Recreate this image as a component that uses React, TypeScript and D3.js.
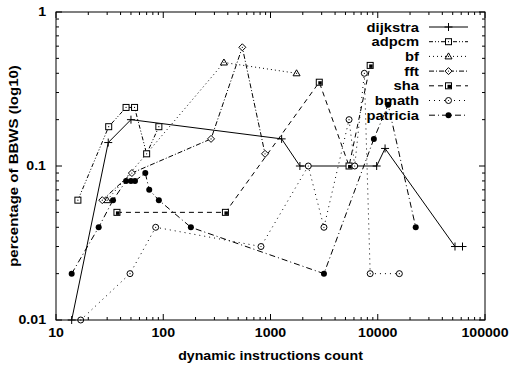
import * as d3 from "d3";

// x: dynamic instructions count, y: percentage of BBWS
const dijkstraX = [14, 30.7, 50, 1270, 1880, 9770, 11700, 52500, 61700];
const dijkstraY = [0.01, 0.142, 0.2, 0.15, 0.1, 0.1, 0.13, 0.03, 0.03];

const adpcmX = [16, 31, 45, 54, 70, 91];
const adpcmY = [0.06, 0.18, 0.24, 0.24, 0.12, 0.18];

const bfX = [30, 368, 1750];
const bfY = [0.06, 0.47, 0.4];

const fftX = [27, 51, 279, 546, 889];
const fftY = [0.06, 0.09, 0.15, 0.59, 0.12];

const shaX = [37, 380, 2850, 5400, 8500];
const shaY = [0.05, 0.05, 0.35, 0.1, 0.45];

const bmathX = [17, 49, 85, 815, 2250, 3150, 5400, 6100, 7500, 8500, 15900];
const bmathY = [0.01, 0.02, 0.04, 0.03, 0.1, 0.04, 0.2, 0.1, 0.4, 0.02, 0.02];

const patriciaX = [14, 25, 34, 45, 50, 54.5, 68, 74, 91, 181, 3150, 9200, 12500, 22600];
const patriciaY = [0.02, 0.04, 0.06, 0.08, 0.08, 0.08, 0.09, 0.07, 0.06, 0.04, 0.02, 0.15, 0.25, 0.04];

const xTicks = [10, 100, 1000, 10000, 100000];
const xTickLabels = ["10", "100", "1000", "10000", "100000"];
const yTicks = [0.01, 0.1, 1];
const yTickLabels = ["0.01", "0.1", "1"];

const series = [
  { name: "dijkstra", xs: dijkstraX, ys: dijkstraY, dash: "none", mark: "plus" },
  { name: "adpcm", xs: adpcmX, ys: adpcmY, dash: "4,2,1,2,1,2", mark: "square" },
  { name: "bf", xs: bfX, ys: bfY, dash: "1,3", mark: "triangle" },
  { name: "fft", xs: fftX, ys: fftY, dash: "5,2,1,2", mark: "diamond" },
  { name: "sha", xs: shaX, ys: shaY, dash: "5,4", mark: "fsquare" },
  { name: "bmath", xs: bmathX, ys: bmathY, dash: "1,4", mark: "circle" },
  { name: "patricia", xs: patriciaX, ys: patriciaY, dash: "6,3,1,3", mark: "dot" },
];

const W = 509;
const H = 366;
const left = 56, right = 485, top = 12, bottom = 320;
const font = "'Liberation Sans', Arial, sans-serif";
const stretch = 1.18; // the original's Helvetica is drawn a bit wide

function T({ x, y, anchor, size, rot, sx = stretch, children }: any) {
  const tr = `translate(${x},${y})${rot ? ` rotate(${rot})` : ""} scale(${sx},1)`;
  return <text transform={tr} textAnchor={anchor} fontSize={size}>{children}</text>;
}

function Marker({ type, x, y }: { type: string; x: number; y: number }) {
  const s = 3;
  const dot = <circle cx={x} cy={y} r={0.6} fill="black" />;
  switch (type) {
    case "plus":
      return <path d={`M${x - 4},${y}H${x + 4}M${x},${y - 4}V${y + 4}`} stroke="black" strokeWidth={1} />;
    case "square":
      return <g><rect x={x - s} y={y - s} width={2 * s} height={2 * s} fill="white" stroke="black" />{dot}</g>;
    case "fsquare":
      return <g><rect x={x - s} y={y - s} width={2 * s} height={2 * s} fill="white" stroke="black" /><rect x={x - 1} y={y - 1} width={3.5} height={3.5} fill="black" /></g>;
    case "triangle":
      return <g><path d={`M${x},${y - 3.5}L${x + 3.5},${y + 2.5}L${x - 3.5},${y + 2.5}Z`} fill="white" stroke="black" />{dot}</g>;
    case "diamond":
      return <g><path d={`M${x},${y - 3.5}L${x + 3.5},${y}L${x},${y + 3.5}L${x - 3.5},${y}Z`} fill="white" stroke="black" />{dot}</g>;
    case "circle":
      return <g><circle cx={x} cy={y} r={3} fill="white" stroke="black" />{dot}</g>;
    default:
      return <circle cx={x} cy={y} r={3} fill="black" />;
  }
}

export default function App() {
  const x = d3.scaleLog().domain([10, 100000]).range([left, right]);
  const y = d3.scaleLog().domain([0.01, 1]).range([bottom, top]);

  const line = d3.line<[number, number]>().x((d) => x(d[0])).y((d) => y(d[1]));

  const xMinor: number[] = [];
  for (let e = 1; e < 5; e++) for (let m = 2; m < 10; m++) xMinor.push(m * Math.pow(10, e));
  const yMinor: number[] = [];
  for (let e = -2; e < 0; e++) for (let m = 2; m < 10; m++) yMinor.push(m * Math.pow(10, e));

  const legendY = (i: number) => 27 + i * 14.7;

  return (
    <svg width={W} height={H} style={{ position: "absolute", left: 0, top: 0, background: "white" }} fontFamily={font} fontWeight="bold">
      {/* ticks, mirrored on all sides */}
      <g stroke="black" strokeWidth={1}>
        {xTicks.map((t) => (
          <path key={"xt" + t} d={`M${x(t)},${bottom}v-6M${x(t)},${top}v6`} />
        ))}
        {xMinor.map((t) => (
          <path key={"xm" + t} d={`M${x(t)},${bottom}v-3M${x(t)},${top}v3`} />
        ))}
        {yTicks.map((t) => (
          <path key={"yt" + t} d={`M${left},${y(t)}h6M${right},${y(t)}h-6`} />
        ))}
        {yMinor.map((t) => (
          <path key={"ym" + t} d={`M${left},${y(t)}h3M${right},${y(t)}h-3`} />
        ))}
      </g>

      {xTicks.map((t, i) => (
        <T key={"xl" + t} x={x(t)} y={337} anchor="middle" size={12}>{xTickLabels[i]}</T>
      ))}
      {yTicks.map((t, i) => (
        <T key={"yl" + t} x={46} y={y(t) + 4} anchor="end" size={12}>{yTickLabels[i]}</T>
      ))}

      <T x={(left + right) / 2} y={360} anchor="middle" size={12}>dynamic instructions count</T>
      <T x={18} y={(top + bottom) / 2} rot={-90} anchor="middle" size={12} sx={1.25}>percentage of BBWS (log10)</T>

      <defs>
        <clipPath id="plot"><rect x={left} y={top} width={right - left} height={bottom - top} /></clipPath>
      </defs>

      <g clipPath="url(#plot)">
        {series.map((s) => (
          <path key={s.name} d={line(s.xs.map((v, i) => [v, s.ys[i]]) as [number, number][]) || ""} fill="none" stroke="black" strokeWidth={1} strokeDasharray={s.dash} />
        ))}
      </g>
      {series.map((s) => (
        <g key={s.name + "m"}>
          {s.xs.map((v, i) => <Marker key={i} type={s.mark} x={x(v)} y={y(s.ys[i])} />)}
        </g>
      ))}

      {/* legend */}
      {series.map((s, i) => (
        <g key={s.name + "lg"}>
          <T x={419} y={legendY(i) + 4.5} anchor="end" size={12.5}>{s.name}</T>
          <path d={`M429,${legendY(i)}H468`} stroke="black" strokeWidth={1} strokeDasharray={s.dash} />
          <Marker type={s.mark} x={448.5} y={legendY(i)} />
        </g>
      ))}

      <rect x={left} y={top} width={right - left} height={bottom - top} fill="none" stroke="black" strokeWidth={1} />
    </svg>
  );
}
